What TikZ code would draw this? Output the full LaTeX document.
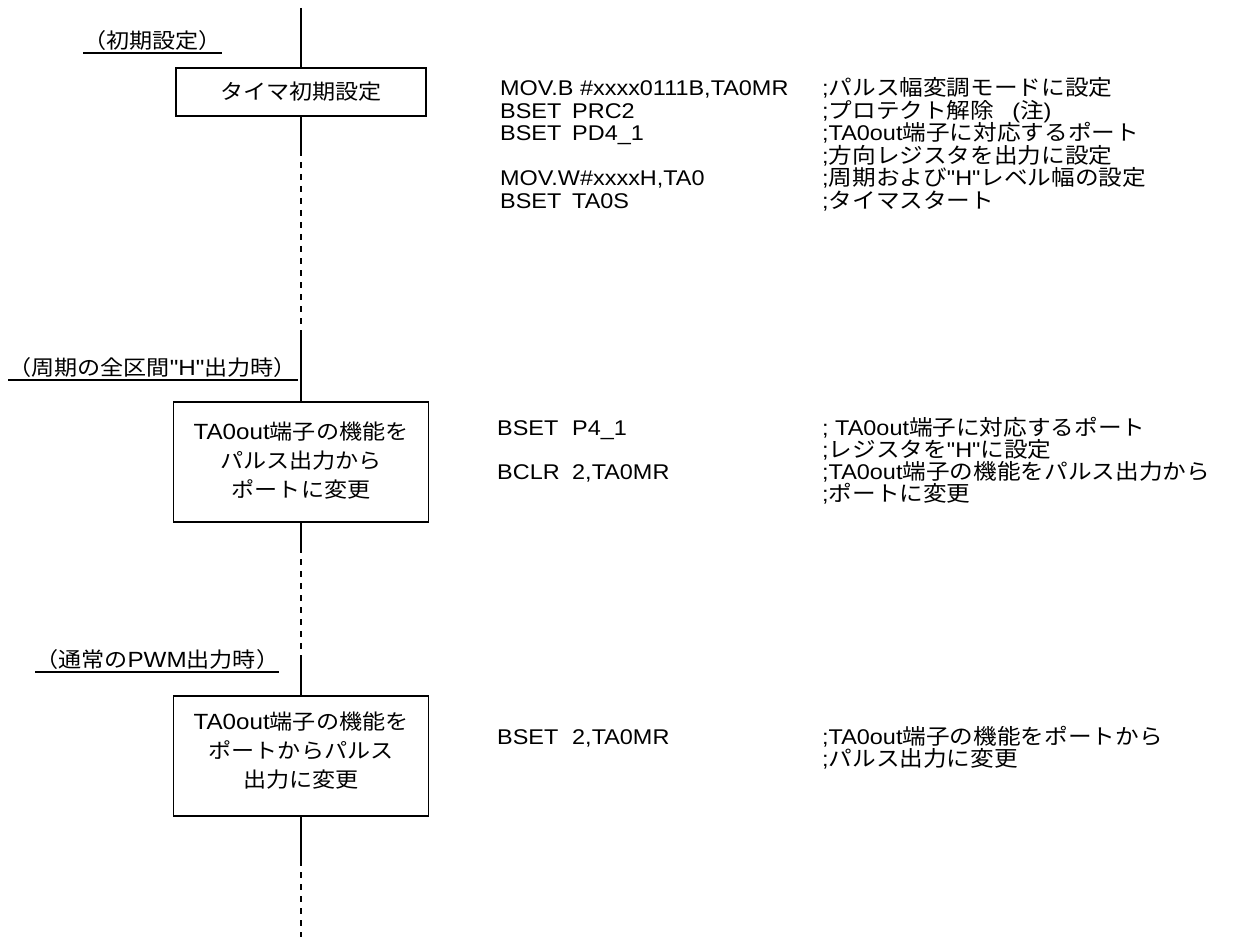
\documentclass[tikz,border=0pt]{standalone}
\usepackage{fontspec}
\newfontfamily\lat{Liberation Sans}[FakeStretch=1.1]
\newfontfamily\jp{Noto Sans CJK JP}[FakeStretch=1.1]
\def\jsz{21}
\newcommand\J[1]{{\jp\fontsize{\jsz}{\jsz}\selectfont #1}}
\newcommand\cfont{\def\jsz{21.5}\lat\fontsize{21.3}{22.5}\selectfont}
\newcommand\bfont{\def\jsz{21}\lat\fontsize{22}{29}\selectfont}
\begin{document}
\begin{tikzpicture}[x=1pt,y=-1pt,
  box/.style={draw,line width=1.6pt,inner sep=0pt},
  btxt/.style={inner sep=0pt,align=center,font=\bfont},
  ln/.style={line width=1.6pt},
  dsh/.style={line width=1.6pt,dash pattern=on 6pt off 6pt},
  code/.style={anchor=base west,inner sep=0pt,font=\cfont},
  lbl/.style={anchor=south west,inner xsep=0pt,inner ysep=2.5pt,font=\bfont},
  uline/.style={line width=1.3pt}]
\useasboundingbox (0,0) rectangle (1241,941);

% boxes
\node[box,minimum width=250,minimum height=48] (b1) at (301,92) {};
\node[btxt] (t1) at (301,92) {\J{タイマ初期設定}};
\node[box,minimum width=255,minimum height=120] (b2) at (301,462) {};
\node[btxt] (t2) at (301,461)
  {TA0out\J{端子の機能を}\\\J{パルス出力から}\\\J{ポートに変更}};
\node[box,minimum width=255,minimum height=120] (b3) at (301,756) {};
\node[btxt] (t3) at (301,751)
  {TA0out\J{端子の機能を}\\\J{ポートからパルス}\\\J{出力に変更}};

% flow line
\coordinate (top) at (301,8);
\coordinate (d1s) at (301,150);
\coordinate (d1e) at (301,335);
\coordinate (d2s) at (301,547);
\coordinate (d2e) at (301,657);
\coordinate (d3s) at (301,860);
\coordinate (d3e) at (301,937);
\draw[ln] (top) -- (b1.north);
\draw[ln] (b1.south) -- (d1s);
\draw[dsh] (d1s) -- (d1e);
\draw[ln] (d1e) -- (b2.north);
\draw[ln] (b2.south) -- (d2s);
\draw[dsh] (d2s) -- (d2e);
\draw[ln] (d2e) -- (b3.north);
\draw[ln] (b3.south) -- (d3s);
\draw[dsh] (d3s) -- (d3e);

% section labels
\node[lbl] (l1) at (83,53) {\J{（初期設定）}};
\draw[uline] (l1.south west) -- (l1.south east);
\node[lbl] (l2) at (8,380) {\J{（周期の全区間}"H"\J{出力時）}};
\coordinate (u2) at (298,380);
\draw[uline] (l2.south west) -- (u2);
\node[lbl] (l3) at (35,672) {\J{（通常の}PWM\J{出力時）}};
\draw[uline] (l3.south west) -- (l3.south east);

% block 1
\node[code] (c1a) at (500,96) {MOV.B \#xxxx0111B,TA0MR};
\node[code] (k1a) at (822,96) {;\J{パルス幅変調モードに設定}};
\node[code] (c1b) at (500,118.5) {BSET};
\node[code] (o1b) at (572,118.5) {PRC2};
\node[code] (k1b) at (822,118.5) {;\J{プロテクト解除}\hspace{18pt}(\J{注})};
\node[code] (c1c) at (500,141) {BSET};
\node[code] (o1c) at (572,141) {PD4\_1};
\node[code] (k1c) at (822,141) {;TA0out\J{端子に対応するポート}};
\node[code] (k1d) at (822,163.5) {;\J{方向レジスタを出力に設定}};
\node[code] (c1e) at (500,186) {MOV.W\#xxxxH,TA0};
\node[code] (k1e) at (822,186) {;\J{周期および}"H"\J{レベル幅の設定}};
\node[code] (c1f) at (500,208.5) {BSET};
\node[code] (o1f) at (572,208.5) {TA0S};
\node[code] (k1f) at (822,208.5) {;\J{タイマスタート}};

% block 2
\node[code] (c2a) at (497,435.5) {BSET};
\node[code] (o2a) at (572,435.5) {P4\_1};
\node[code] (k2a) at (822,435.5) {; TA0out\J{端子に対応するポート}};
\node[code] (k2b) at (822,457.5) {;\J{レジスタを}"H"\J{に設定}};
\node[code] (c2c) at (497,479.5) {BCLR};
\node[code] (o2c) at (572,479.5) {2,TA0MR};
\node[code] (k2c) at (822,479.5) {;TA0out\J{端子の機能をパルス出力から}};
\node[code] (k2d) at (822,501.5) {;\J{ポートに変更}};

% block 3
\node[code] (c3a) at (497,744.5) {BSET};
\node[code] (o3a) at (572,744.5) {2,TA0MR};
\node[code] (k3a) at (822,744.5) {;TA0out\J{端子の機能をポートから}};
\node[code] (k3b) at (822,766.5) {;\J{パルス出力に変更}};
\end{tikzpicture}
\end{document}
